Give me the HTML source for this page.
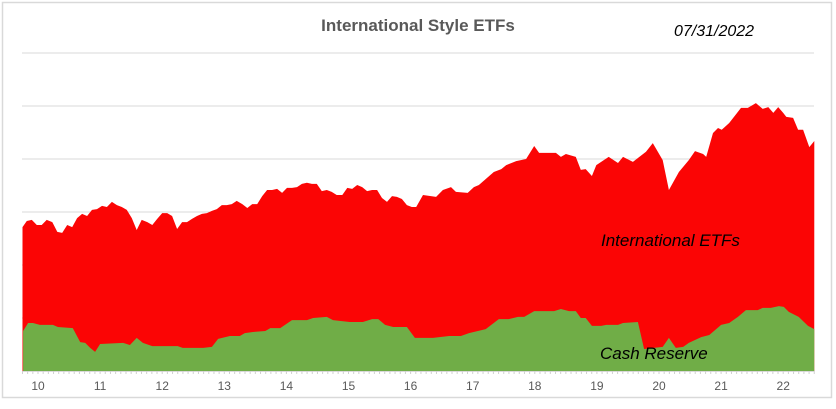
<!DOCTYPE html>
<html><head><meta charset="utf-8"><style>
body{margin:0;background:#fff;width:836px;height:404px;overflow:hidden;font-family:"Liberation Sans",sans-serif}
</style></head><body>
<svg id="chart" width="836" height="404" viewBox="0 0 836 404" xmlns="http://www.w3.org/2000/svg">
<rect x="2.5" y="2.5" width="829" height="395" fill="#fff" stroke="#d9d9d9" stroke-width="1.5"/>
<g id="grid"></g>
<g id="areas"></g>
<g id="axis"></g>
<text x="418" y="31" text-anchor="middle" font-size="17" font-weight="bold" fill="#595959">International Style ETFs</text>
<text x="674" y="36" font-size="16" font-style="italic" fill="#000">07/31/2022</text>
<text x="601" y="246" font-size="17" font-style="italic" fill="#000">International ETFs</text>
<text x="600" y="359" font-size="17" font-style="italic" fill="#000">Cash Reserve</text>
</svg>
<script>
const yearLabels=["10","11","12","13","14","15","16","17","18","19","20","21","22"];
const gridValues=[20,40,60,80,100,120];
const totalDates=[9.75,9.82,9.90,9.98,10.06,10.14,10.23,10.31,10.39,10.47,10.55,10.63,10.71,10.79,10.87,10.95,11.03,11.11,11.19,11.27,11.35,11.43,11.51,11.59,11.67,11.76,11.84,11.92,12.00,12.08,12.16,12.24,12.32,12.40,12.48,12.56,12.64,12.72,12.80,12.88,12.96,13.04,13.12,13.20,13.29,13.37,13.45,13.53,13.61,13.69,13.77,13.85,13.93,14.01,14.09,14.17,14.25,14.33,14.41,14.49,14.57,14.65,14.73,14.81,14.90,14.98,15.06,15.14,15.22,15.30,15.38,15.46,15.54,15.62,15.70,15.78,15.86,15.94,16.02,16.09,16.20,16.41,16.52,16.65,16.73,16.92,17.02,17.10,17.34,17.46,17.54,17.70,17.86,17.99,18.07,18.34,18.42,18.50,18.66,18.74,18.82,18.92,18.99,19.19,19.34,19.42,19.58,19.79,19.90,20.06,20.16,20.32,20.48,20.58,20.71,20.76,20.87,20.95,21.01,21.13,21.32,21.43,21.56,21.67,21.76,21.84,21.92,22.00,22.05,22.16,22.24,22.32,22.42,22.50];
const totalValues=[54.3,56.6,57.0,55.1,55.1,57.0,56.2,52.5,52.1,55.1,54.3,57.7,59.3,58.5,60.8,61.1,62.3,61.9,63.8,62.6,61.9,60.8,57.7,53.2,57.0,56.2,55.1,57.4,59.6,59.6,58.5,53.6,56.2,56.2,57.4,58.5,59.3,59.6,60.4,61.1,62.6,62.6,63.0,64.2,63.0,61.5,63.0,63.0,66.0,68.3,68.3,68.7,67.2,69.1,69.1,69.4,70.6,71.0,70.6,70.6,67.9,68.3,67.6,66.4,66.4,69.1,68.7,70.2,69.4,67.9,68.3,68.3,65.3,63.8,66.0,65.7,64.9,62.6,61.9,61.9,66.4,65.7,68.3,69.4,67.6,67.2,69.4,70.2,75.1,76.2,77.7,79.2,80.0,84.9,82.3,82.3,80.8,81.9,80.8,75.9,76.2,73.6,77.7,80.8,78.5,80.8,78.9,82.7,86.0,79.6,68.3,75.1,79.6,83.0,81.9,80.8,89.8,91.7,91.0,93.6,99.3,99.3,101.1,98.9,99.6,97.4,99.6,97.4,95.9,95.5,91.0,91.0,84.5,86.8];
const cashDates=[9.76,9.84,9.92,10.03,10.24,10.32,10.56,10.68,10.76,10.84,10.92,11.00,11.37,11.48,11.59,11.69,11.84,12.25,12.33,12.66,12.80,12.90,13.09,13.25,13.33,13.46,13.66,13.74,13.90,14.09,14.33,14.43,14.65,14.75,15.02,15.23,15.38,15.48,15.59,15.72,15.94,16.07,16.36,16.62,16.81,16.94,17.21,17.42,17.58,17.73,17.83,17.99,18.31,18.42,18.55,18.66,18.74,18.82,18.92,19.07,19.15,19.34,19.42,19.66,19.76,20.06,20.16,20.27,20.39,20.48,20.68,20.81,21.00,21.13,21.27,21.40,21.59,21.67,21.80,21.93,22.01,22.09,22.25,22.40,22.50];
const cashValues=[15.1,18.1,18.1,17.4,17.4,16.6,16.2,10.9,10.6,8.7,7.2,10.2,10.6,9.8,12.5,10.6,9.4,9.4,8.7,8.7,9.1,12.1,13.2,13.2,14.3,14.7,15.1,16.2,16.2,19.2,19.2,20.0,20.4,19.2,18.5,18.5,19.6,19.6,17.4,16.6,16.6,12.5,12.5,13.2,13.2,14.3,15.8,19.6,19.6,20.4,20.4,22.6,22.6,23.4,22.6,22.6,20.0,20.0,17.0,17.0,17.4,17.4,18.1,18.5,8.3,9.1,12.5,8.7,9.1,10.6,12.8,13.6,17.4,18.1,20.4,23.0,23.0,23.8,23.8,24.5,24.2,22.3,20.4,17.0,15.8];

const NS="http://www.w3.org/2000/svg";
const X0=22,X1=814,Y0=371;
const xs=t=>38+(t-10)*62.1;
const ys=v=>Y0-v*53/20;
function mk(tag,attrs,parent){const e=document.createElementNS(NS,tag);for(const k in attrs)e.setAttribute(k,attrs[k]);parent.appendChild(e);return e;}
const grid=document.getElementById('grid'),areas=document.getElementById('areas'),axis=document.getElementById('axis');
gridValues.forEach(v=>{
  const l=mk('line',{x1:X0,x2:X1,y1:ys(v),y2:ys(v),stroke:'#d9d9d9','stroke-width':1},grid);
  
  
});
function areaPath(d,v){
  let p=`M${xs(d[0])},${Y0}`;
  d.forEach((t,i)=>{p+=` L${xs(t).toFixed(1)},${ys(v[i]).toFixed(1)}`;});
  p+=` L${xs(d[d.length-1])},${Y0} Z`;return p;
}
const red=mk('path',{d:areaPath(totalDates,totalValues),fill:'#fb0505'},areas);


const green=mk('path',{d:areaPath(cashDates,cashValues),fill:'#70ad47'},areas);


const ax=mk('line',{x1:X0,x2:X1,y1:Y0+0.5,y2:Y0+0.5,stroke:'#d9d9d9','stroke-width':1},axis);


for(let t=9.75;t<=22.51;t+=1/12){
  const tk=mk('line',{x1:xs(t),x2:xs(t),y1:Y0,y2:Y0+3,stroke:'#d0d0d0','stroke-width':1},axis);
  
  
}
yearLabels.forEach((lab,i)=>{
  const tx=mk('text',{x:xs(10+i),y:390,'text-anchor':'middle','font-size':12,fill:'#595959'},axis);
  tx.textContent=lab;
  
  
});
</script>
</body></html>
